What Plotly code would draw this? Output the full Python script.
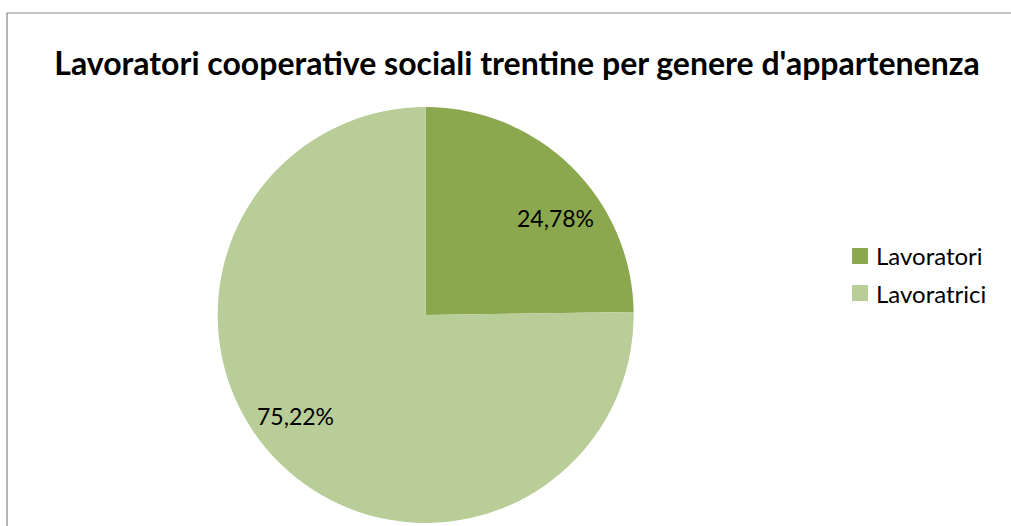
import math
import plotly.graph_objects as go

# Dati: lavoratori per genere
categories = ["Lavoratori", "Lavoratrici"]
shares = [24.78, 75.22]
share_labels = ["24,78%", "75,22%"]
colors = ["#8ba84f", "#b8cd97"]

W, H = 1011, 526
FONT = "Lato"

# Pie geometry (paper fractions)
pie_x = [0.2153, 0.6268]
pie_y = [0.0057, 0.7966]

fig = go.Figure(
    go.Pie(
        labels=categories,
        values=shares,
        marker=dict(colors=colors, line=dict(width=0)),
        sort=False,
        direction="clockwise",
        rotation=0,
        textinfo="none",
        hoverinfo="label+percent",
        domain=dict(x=pie_x, y=pie_y),
        showlegend=False,
    )
)

# Percent labels placed inside each slice, along its bisector
cx_px = (pie_x[0] + pie_x[1]) / 2 * W
cy_px = (pie_y[0] + pie_y[1]) / 2 * H
radius_px = min((pie_x[1] - pie_x[0]) * W, (pie_y[1] - pie_y[0]) * H) / 2
total = sum(shares)
start = 0.0
for val, txt in zip(shares, share_labels):
    mid = start + val / total * 360 / 2
    ang = math.radians(mid + 8.0)
    r = 0.785 * radius_px
    x_px = cx_px + r * math.sin(ang)
    y_px = cy_px + r * math.cos(ang)
    fig.add_annotation(
        x=x_px / W, y=(y_px - 2) / H, xref="paper", yref="paper",
        xanchor="center", yanchor="middle",
        text=txt, showarrow=False,
        font=dict(family=FONT, size=23, color="#000000"),
    )
    start += val / total * 360

# Legend: coloured squares with category names
leg_x, leg_y0, leg_step, sq = 852, 256, 37, 16
for i, (cat, col) in enumerate(zip(categories, colors)):
    yc = leg_y0 + i * leg_step
    fig.add_shape(
        type="rect", xref="paper", yref="paper",
        x0=leg_x / W, x1=(leg_x + sq) / W,
        y0=1 - (yc + sq / 2) / H, y1=1 - (yc - sq / 2) / H,
        line=dict(width=0), fillcolor=col,
    )
    fig.add_annotation(
        x=(leg_x + sq + 6) / W, y=1 - yc / H, xref="paper", yref="paper",
        xanchor="left", yanchor="middle",
        text=cat, showarrow=False,
        font=dict(family=FONT, size=24, color="#000000"),
    )

# Chart frame
fig.add_shape(
    type="rect", xref="paper", yref="paper",
    x0=7 / W, x1=1.05, y0=-0.05, y1=1 - 13 / H,
    line=dict(color="#868686", width=1.2), fillcolor="rgba(0,0,0,0)",
)

fig.update_layout(
    width=W, height=H,
    margin=dict(l=0, r=0, t=0, b=0),
    paper_bgcolor="white",
    plot_bgcolor="white",
    title=dict(
        text="<b>Lavoratori cooperative sociali trentine per genere d'appartenenza</b>",
        x=517 / W, xanchor="center",
        y=1 - 64 / H, yanchor="middle",
        font=dict(family=FONT, size=32, color="#000000"),
    ),
    showlegend=False,
)

fig.write_html("out.html")
